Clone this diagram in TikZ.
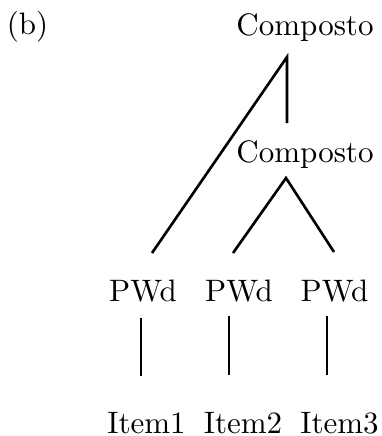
\documentclass[tikz,border=0pt]{standalone}
\begin{document}
\begin{tikzpicture}[x=0.3226pt,y=-0.3226pt,
  lbl/.style={anchor=base,inner sep=0pt,font=\fontsize{10}{12}\selectfont},
  branch/.style={line width=0.85pt}]
\useasboundingbox (0,0) rectangle (382,436);
% labels
\node[lbl] (tag) at (27.5,34.5) {(b)};
\node[lbl] (c1) at (305,35) {Composto};
\node[lbl] (c2) at (305,162) {Composto};
\node[lbl] (p1) at (143,301) {PWd};
\node[lbl] (p2) at (239,301) {PWd};
\node[lbl] (p3) at (334.5,301) {PWd};
\node[lbl] (i1) at (146.5,433) {Item1};
\node[lbl] (i2) at (243,433) {Item2};
\node[lbl] (i3) at (339.5,433) {Item3};
% branch end points
\coordinate (c1b) at (287,57);
\coordinate (c2t) at (287,123);
\coordinate (c2b) at (286,178);
\coordinate (p1t) at (152,253);
\coordinate (p2t) at (233,253);
\coordinate (p3t) at (334,252);
\coordinate (p1b) at (141,318);
\coordinate (p2b) at (229,316);
\coordinate (p3b) at (327,316);
\coordinate (i1t) at (141,376);
\coordinate (i2t) at (229,375);
\coordinate (i3t) at (327,375);
% branches
\draw[branch] (p1t) -- (c1b) -- (c2t);
\draw[branch] (p2t) -- (c2b) -- (p3t);
\draw[branch] (p1b) -- (i1t);
\draw[branch] (p2b) -- (i2t);
\draw[branch] (p3b) -- (i3t);
\end{tikzpicture}
\end{document}
